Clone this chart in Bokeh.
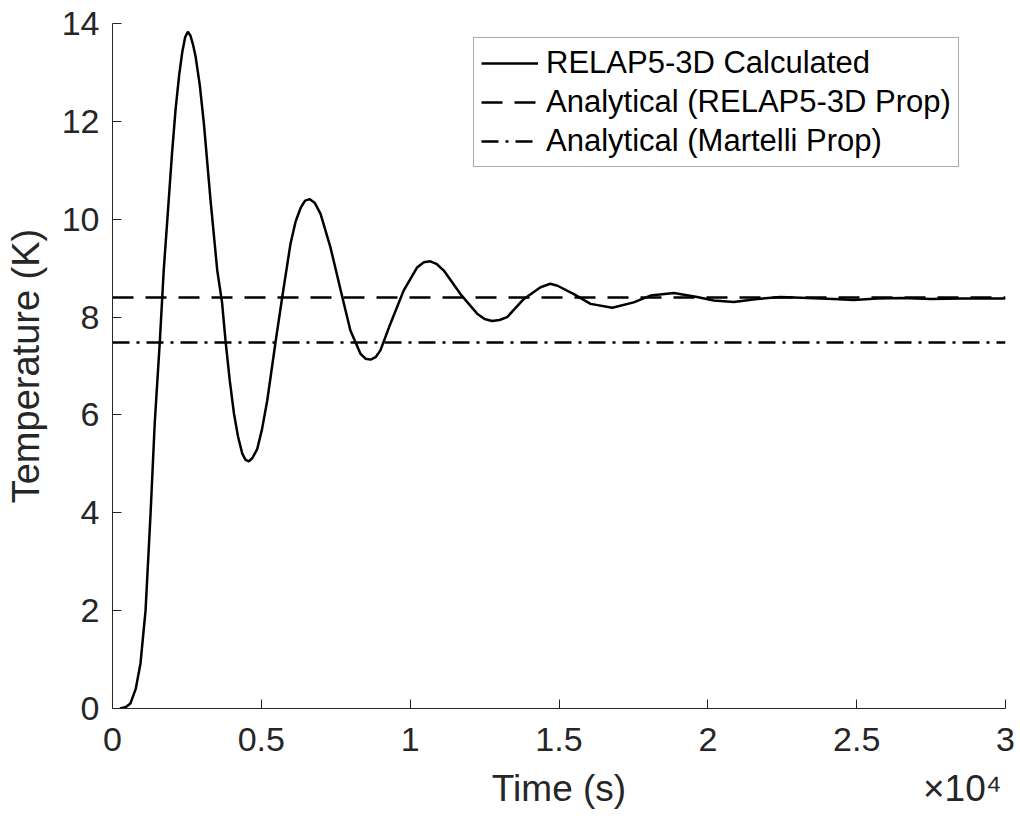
from bokeh.plotting import figure
from bokeh.models import Range1d, FixedTicker, LinearAxis
from bokeh.embed import file_html
from bokeh.resources import INLINE

# ---- data ----
time_s = [250, 450, 600, 780, 940, 1110, 1280, 1420, 1590, 1720, 1890, 2000, 2120, 2240,
          2340, 2440, 2530, 2620, 2700, 2790, 2930, 3070, 3290, 3520, 3680, 3800, 3940,
          4080, 4220, 4360, 4470, 4580, 4700, 4860, 5020, 5200, 5480, 5700, 5980, 6150,
          6320, 6470, 6630, 6800, 6990, 7320, 7720, 7990, 8330, 8500, 8670, 8840, 9000,
          9340, 9780, 10240, 10460, 10680, 10900, 11130, 11690, 12250, 12500, 12750,
          13000, 13260, 13820, 14380, 14710, 14950, 15500, 16060, 16790, 17510, 18070,
          18860, 19640, 20200, 20870, 21660, 22440, 23340, 24230, 24900, 25700, 26500,
          27500, 28500, 30000]
temp_relap = [0.0, 0.03, 0.1, 0.4, 0.92, 2.0, 4.0, 5.85, 7.5, 8.95, 10.4, 11.35, 12.25, 12.95,
              13.4, 13.72, 13.83, 13.75, 13.58, 13.33, 12.75, 11.96, 10.41, 8.95, 8.3, 7.5, 6.7,
              6.03, 5.55, 5.21, 5.08, 5.05, 5.12, 5.3, 5.7, 6.3, 7.5, 8.4, 9.5, 9.95,
              10.23, 10.38, 10.41, 10.33, 10.11, 9.43, 8.41, 7.73, 7.25, 7.15, 7.13, 7.18, 7.32,
              7.87, 8.54, 9.02, 9.12, 9.14, 9.08, 8.95, 8.47, 8.07, 7.96, 7.92,
              7.94, 8.0, 8.37, 8.61, 8.68, 8.64, 8.47, 8.27, 8.19, 8.30, 8.44,
              8.49, 8.41, 8.34, 8.31, 8.37, 8.41, 8.39, 8.37, 8.35, 8.38, 8.39,
              8.37, 8.38, 8.38]
analytic_t = [0, 30000]
analytic_relap_prop = [8.4, 8.4]
analytic_martelli_prop = [7.48, 7.48]

x_ticks = [0, 5000, 10000, 15000, 20000, 25000, 30000]
x_tick_labels = ["0", "0.5", "1", "1.5", "2", "2.5", "3"]
y_ticks = [0, 2, 4, 6, 8, 10, 12, 14]
x_title = "Time (s)"
x_exponent = "\u00d710\u2074"
y_title = "Temperature (K)"

FONT = "Liberation Sans"
TXT = "#262626"

p = figure(width=1020, height=822, output_backend="svg", toolbar_location=None,
           x_range=Range1d(0, 30000), y_range=Range1d(0, 14),
           min_border_left=112, min_border_right=15, min_border_top=23, min_border_bottom=114)
p.outline_line_color = None
p.xgrid.visible = False
p.ygrid.visible = False
p.background_fill_color = "white"
p.border_fill_color = "white"

p.line(time_s, temp_relap, line_color="black", line_width=2.5,
       legend_label="RELAP5-3D Calculated")
p.line(analytic_t, analytic_relap_prop, line_color="black", line_width=2.5,
       line_dash="21 12", legend_label="Analytical (RELAP5-3D Prop)")
p.line(analytic_t, analytic_martelli_prop, line_color="black", line_width=2.5,
       line_dash="17 7 3 7", legend_label="Analytical (Martelli Prop)")

for ax in (p.xaxis[0], p.yaxis[0]):
    ax.axis_line_color = TXT
    ax.axis_line_width = 1
    ax.major_tick_line_color = TXT
    ax.major_tick_in = 9
    ax.major_tick_out = 0
    ax.minor_tick_line_color = None
    ax.major_label_text_font = FONT
    ax.major_label_text_font_size = "34px"
    ax.major_label_text_color = TXT
    ax.axis_label_text_font = FONT
    ax.axis_label_text_font_size = "38px"
    ax.axis_label_text_font_style = "normal"
    ax.axis_label_text_color = TXT

p.xaxis[0].ticker = FixedTicker(ticks=x_ticks)
p.xaxis[0].major_label_overrides = {t: l for t, l in zip(x_ticks, x_tick_labels)}
p.xaxis[0].major_label_standoff = 19

# second (label-only) axis below: axis title and MATLAB-style exponent
x_label_pos = [15000, 28550]
ax2 = LinearAxis(ticker=FixedTicker(ticks=x_label_pos),
                 major_label_overrides={x_label_pos[0]: x_title, x_label_pos[1]: x_exponent},
                 axis_line_color=None, major_tick_line_color=None, minor_tick_line_color=None,
                 major_tick_in=0, major_tick_out=0,
                 major_label_standoff=14, major_label_text_font=FONT,
                 major_label_text_font_size="37px", major_label_text_color=TXT)
p.add_layout(ax2, "below")

p.yaxis.ticker = FixedTicker(ticks=y_ticks)
p.yaxis.axis_label = y_title
p.yaxis.major_label_standoff = 13
p.yaxis.axis_label_standoff = 12

lg = p.legend[0]
lg.location = (361, 541)
lg.margin = 0
lg.padding = 7
lg.spacing = 3
lg.label_height = 36
lg.glyph_height = 36
lg.glyph_width = 57
lg.label_standoff = 8
lg.label_text_font = FONT
lg.label_text_font_size = "31px"
lg.label_text_color = "black"
lg.border_line_color = "#555555"
lg.border_line_width = 1
lg.background_fill_color = "white"
lg.background_fill_alpha = 1.0

open("out.html", "w").write(file_html(p, INLINE))
